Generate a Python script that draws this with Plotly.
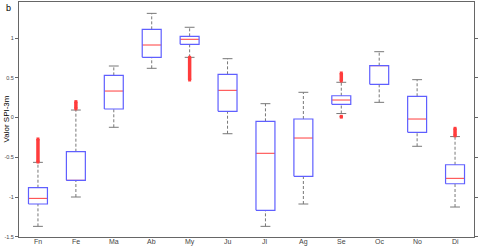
import plotly.graph_objects as go

months = ["Fn", "Fe", "Ma", "Ab", "My", "Ju", "Jl", "Ag", "Se", "Oc", "No", "Di"]
q1 = [-1.088, -0.79, 0.107, 0.757, 0.921, 0.078, -1.167, -0.74, 0.166, 0.418, -0.186, -0.833]
median = [-1.017, -0.79, 0.333, 0.912, 0.984, 0.342, -0.45, -0.258, 0.22, 0.652, -0.019, -0.765]
q3 = [-0.883, -0.43, 0.53, 1.109, 1.021, 0.543, -0.048, -0.019, 0.274, 0.652, 0.267, -0.594]
whisker_lo = [-1.369, -1.0, -0.123, 0.619, 0.757, -0.204, -1.369, -1.088, 0.05, 0.191, -0.362, -1.126]
whisker_hi = [-0.564, 0.094, 0.648, 1.31, 1.135, 0.74, 0.174, 0.317, 0.443, 0.828, 0.476, -0.24]
# outlier extents: (month index, lowest outlier, highest outlier)
outlier_month = [0, 1, 4, 8, 8, 11]
outlier_lo = [-0.56, 0.11, 0.472, 0.46, 0.005, -0.23]
outlier_hi = [-0.27, 0.20, 0.757, 0.56, 0.015, -0.136]

yticks = [-1.5, -1, -0.5, 0, 0.5, 1]
yticktext = ["-1.5", "-1", "-0.5", "0", "0.5", "1"]

BOX_HALF = 0.25
CAP_HALF = 0.13
BLUE = "rgb(95,95,255)"
RED = "rgb(255,60,60)"
GREY = "rgb(120,120,120)"

fig = go.Figure()

# whiskers (dashed)
wx, wy = [], []
for i in range(len(months)):
    wx += [i, i, None, i, i, None]
    wy += [whisker_lo[i], q1[i], None, q3[i], whisker_hi[i], None]
fig.add_trace(go.Scatter(x=wx, y=wy, mode="lines",
                         line=dict(color=GREY, width=1, dash="3px,2px"),
                         hoverinfo="skip", showlegend=False))
# caps
cx, cy = [], []
for i in range(len(months)):
    cx += [i - CAP_HALF, i + CAP_HALF, None, i - CAP_HALF, i + CAP_HALF, None]
    cy += [whisker_lo[i], whisker_lo[i], None, whisker_hi[i], whisker_hi[i], None]
fig.add_trace(go.Scatter(x=cx, y=cy, mode="lines",
                         line=dict(color=GREY, width=1),
                         hoverinfo="skip", showlegend=False))
# medians
mx, my = [], []
for i in range(len(months)):
    mx += [i - BOX_HALF, i + BOX_HALF, None]
    my += [median[i], median[i], None]
fig.add_trace(go.Scatter(x=mx, y=my, mode="lines",
                         line=dict(color=RED, width=1),
                         hoverinfo="skip", showlegend=False))
# boxes
bx, by = [], []
for i in range(len(months)):
    bx += [i - BOX_HALF, i + BOX_HALF, i + BOX_HALF, i - BOX_HALF, i - BOX_HALF, None]
    by += [q1[i], q1[i], q3[i], q3[i], q1[i], None]
fig.add_trace(go.Scatter(x=bx, y=by, mode="lines",
                         line=dict(color=BLUE, width=1.2),
                         hoverinfo="skip", showlegend=False))
# outliers
ox, oy = [], []
for m, lo, hi in zip(outlier_month, outlier_lo, outlier_hi):
    ox += [m, m, None]
    oy += [lo, hi, None]
fig.add_trace(go.Scatter(x=ox, y=oy, mode="lines+markers",
                         line=dict(color=RED, width=3.5),
                         marker=dict(color=RED, size=3, symbol="square"),
                         hoverinfo="skip", showlegend=False))

annotations = [
    dict(text="b", xref="paper", yref="paper", x=(8 - 19) / 455, y=(237 - 8) / 235,
         showarrow=False, font=dict(size=9, color="black"), xanchor="center", yanchor="middle"),
    dict(text="Valor SPI-3m", xref="paper", yref="paper", x=(6 - 19) / 455, y=0.5,
         textangle=-90, showarrow=False, font=dict(size=8, color="black"),
         xanchor="center", yanchor="middle"),
]
for i, m in enumerate(months):
    annotations.append(dict(text=m, x=i, xref="x", y=0, yref="paper", yanchor="top",
                            yshift=1, showarrow=False,
                            font=dict(size=7, color="#444")))

fig.update_layout(
    width=479, height=247,
    margin=dict(l=19, r=5, t=2, b=10),
    paper_bgcolor="white", plot_bgcolor="white",
    font=dict(family="Liberation Sans, Arial, sans-serif", size=6, color="#333"),
    xaxis=dict(range=[-0.5, len(months) - 0.5], tickvals=list(range(len(months))),
               showticklabels=False, showgrid=False, zeroline=False, ticks="",
               showline=True, linecolor="#666", linewidth=1, mirror=True),
    yaxis=dict(range=[-1.503, 1.453], tickvals=yticks, ticktext=yticktext,
               showgrid=False, zeroline=False, ticks="outside", ticklen=3,
               tickcolor="#666", showline=True, linecolor="#666", linewidth=1,
               mirror="allticks", tickfont=dict(size=5.5, color="#444")),
    annotations=annotations,
)

fig.write_html("out.html", config={"displayModeBar": False},
               post_script="document.body.style.margin='0px';document.body.style.overflow='hidden';")
